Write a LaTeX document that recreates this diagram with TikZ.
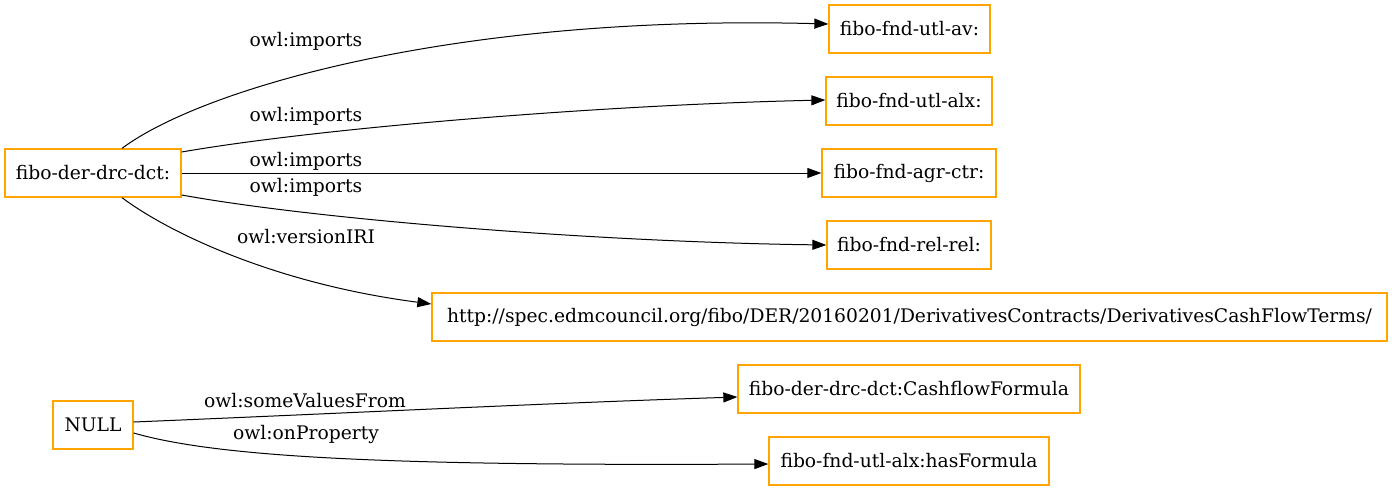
\documentclass[tikz,border=0pt]{standalone}
\usepackage{fontspec}
\setmainfont{DejaVu Serif}
\usepackage{tikz}
\usetikzlibrary{arrows.meta,positioning,calc}
\definecolor{boxorange}{HTML}{FFA500}

\begin{document}
\begin{tikzpicture}[x=1pt,y=-1pt,
        termnode/.style={rectangle, draw=boxorange, fill=white, line width=1.3pt, minimum height=48pt, inner sep=0pt, font=\fontsize{18.7}{22}\selectfont},
        edgelabel/.style={font=\fontsize{18.7}{22}\selectfont, inner sep=0pt},
        imparrow/.style={line width=1pt, -{Triangle[length=14pt,width=10pt]}}
    ]
    \useasboundingbox (0,0) rectangle (1392,491);

    % Nodes
    \node[termnode, minimum width=176pt] (dct) at (93,173) {fibo-der-drc-dct:};
    \node[termnode, minimum width=161pt] (av) at (909.5,29) {fibo-fnd-utl-av:};
    \node[termnode, minimum width=166pt] (alx) at (909,101) {fibo-fnd-utl-alx:};
    \node[termnode, minimum width=174pt] (ctr) at (909,173) {fibo-fnd-agr-ctr:};
    \node[termnode, minimum width=164pt] (rel) at (909,245) {fibo-fnd-rel-rel:};
    \node[termnode, minimum width=955pt] (iri) at (909.5,317) {http://spec.edmcouncil.org/fibo/DER/20160201/DerivativesContracts/DerivativesCashFlowTerms/};

    \node[termnode, minimum width=80pt] (null) at (93,425) {NULL};
    \node[termnode, minimum width=342pt] (cff) at (909,389) {fibo-der-drc-dct:CashflowFormula};
    \node[termnode, minimum width=280pt] (hasf) at (909,461) {fibo-fnd-utl-alx:hasFormula};

    % Edges
    \draw[imparrow] ([xshift=29pt]dct.north) .. controls (200,90) and (450,14) .. ([yshift=5pt]av.west);
    \draw[imparrow] ([yshift=21pt]dct.east) .. controls (320,128) and (600,105) .. ([yshift=1pt]alx.west);
    \draw[imparrow] (dct.east) -- (ctr.west);
    \draw[imparrow] ([yshift=-22pt]dct.east) .. controls (320,220) and (600,242) .. (rel.west);
    \draw[imparrow] ([xshift=29pt]dct.south) .. controls (165,230) and (270,283) .. ([yshift=13pt]iri.west);

    \draw[imparrow] ([yshift=3pt]null.east) .. controls (350,413) and (550,403) .. ([yshift=-8pt]cff.west);
    \draw[imparrow] ([yshift=-8pt]null.east) .. controls (220,458) and (400,466) .. ([yshift=-3pt]hasf.west);

    % Edge labels
    \node[edgelabel] (l1) at (306,41) {owl:imports};
    \node[edgelabel] (l2) at (306,116) {owl:imports};
    \node[edgelabel] (l3) at (306,161) {owl:imports};
    \node[edgelabel] (l4) at (306,187) {owl:imports};
    \node[edgelabel] (l5) at (306,237) {owl:versionIRI};
    \node[edgelabel] (l6) at (305,401) {owl:someValuesFrom};
    \node[edgelabel] (l7) at (306,434) {owl:onProperty};
\end{tikzpicture}
\end{document}
